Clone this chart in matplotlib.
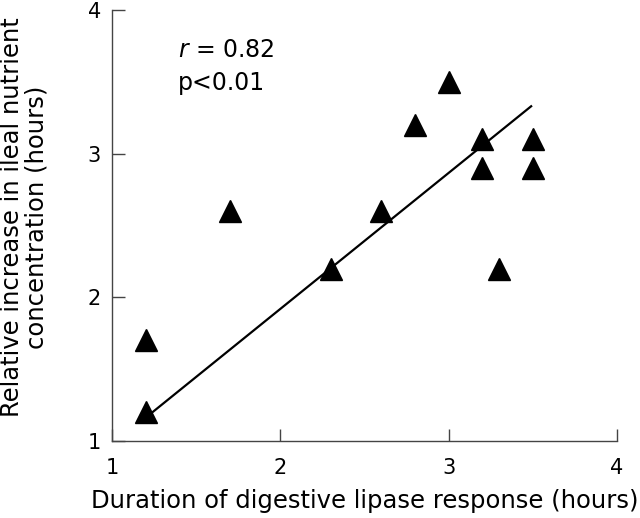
import matplotlib
matplotlib.use("Agg")
import matplotlib.pyplot as plt

# Data
duration = [1.2, 1.2, 1.7, 2.3, 2.6, 2.8, 3.0, 3.2, 3.2, 3.3, 3.5, 3.5]
increase = [1.7, 1.2, 2.6, 2.2, 2.6, 3.2, 3.5, 3.1, 2.9, 2.2, 3.1, 2.9]
line_x = [1.24, 3.49]
line_y = [1.20, 3.33]
ticks = [1, 2, 3, 4]
xlabel = "Duration of digestive lipase response (hours)"
ylabel = "Relative increase in ileal nutrient\nconcentration (hours)"

plt.rcParams['font.family'] = ['DejaVu Sans']

fig = plt.figure(figsize=(6.4, 5.18), dpi=100)
ax = fig.add_axes([112/640, 77/518, 505/640, 431/518])

ax.plot(line_x, line_y, color='black', lw=1.6, zorder=2)
ax.plot(duration, increase, linestyle='none', marker='^', ms=16.5,
        color='black', zorder=3)

ax.set_xlim(1, 4)
ax.set_ylim(1, 4)
ax.set_xticks(ticks)
ax.set_yticks(ticks)
ax.set_xticklabels([str(t) for t in ticks])
ax.set_yticklabels([str(t) for t in ticks])

for s in ['top', 'right']:
    ax.spines[s].set_visible(False)
for s in ['left', 'bottom']:
    ax.spines[s].set_color('#444444')
    ax.spines[s].set_linewidth(1.0)

ax.tick_params(axis='both', direction='in', length=9, width=1.0,
               color='#444444', labelsize=15)
ax.tick_params(axis='x', pad=12)
ax.tick_params(axis='y', pad=8)

ax.set_xlabel(xlabel, fontsize=17.5, labelpad=8)
ax.set_ylabel(ylabel, fontsize=17.5, linespacing=1.05)
ax.yaxis.set_label_coords(-0.125, 0.52)

ax.text(0.131, 0.907, r"$r$ = 0.82", transform=ax.transAxes,
        fontsize=17, va='center', ha='left')
ax.text(0.131, 0.83, "p<0.01", transform=ax.transAxes,
        fontsize=17, va='center', ha='left')

fig.savefig("out.png", dpi=100)
